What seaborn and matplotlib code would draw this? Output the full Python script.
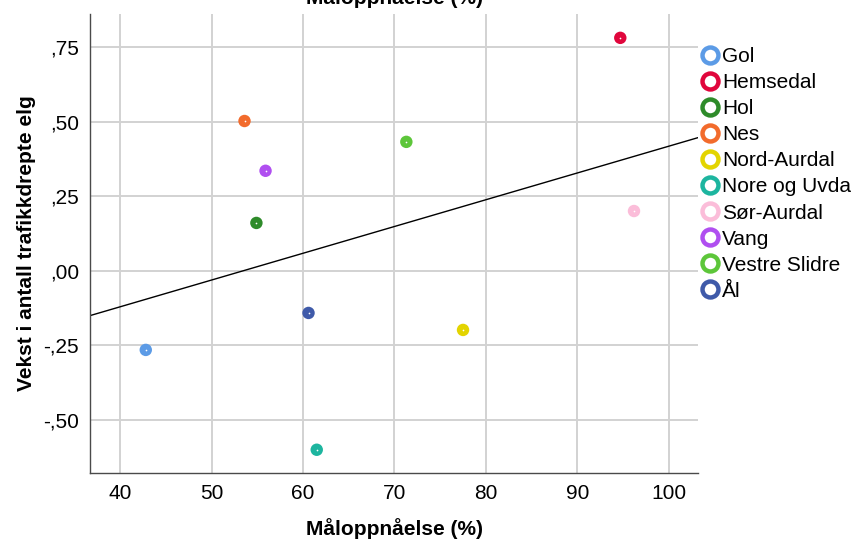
import matplotlib
matplotlib.use("Agg")
import matplotlib.pyplot as plt
from matplotlib.lines import Line2D
from matplotlib.ticker import FuncFormatter, FixedLocator
import seaborn as sns
import pandas as pd

kommuner = ["Gol", "Hemsedal", "Hol", "Nes", "Nord-Aurdal", "Nore og Uvda",
            "Sør-Aurdal", "Vang", "Vestre Slidre", "Ål"]
maloppnaelse = [42.8, 94.7, 54.9, 53.6, 77.5, 61.5, 96.2, 55.9, 71.3, 60.6]
vekst = [-0.265, 0.782, 0.161, 0.503, -0.198, -0.600, 0.201, 0.336, 0.433, -0.141]
farger = ["#5c9be6", "#e0063c", "#2e8b2a", "#f26b2c", "#e3d400", "#1db59f",
          "#fbbdd9", "#b04ff0", "#5dc63a", "#3f5aa9"]

x_ticks = [40, 50, 60, 70, 80, 90, 100]
y_ticks = [-0.50, -0.25, 0.00, 0.25, 0.50, 0.75]

df = pd.DataFrame({"kommune": kommuner, "mal": maloppnaelse, "vekst": vekst})
palette = dict(zip(kommuner, farger))

sns.set_theme(style="white")
plt.rcParams["font.family"] = ["Liberation Sans", "DejaVu Sans"]
plt.rcParams["text.color"] = "black"
plt.rcParams["axes.labelcolor"] = "black"
plt.rcParams["xtick.color"] = "black"
plt.rcParams["ytick.color"] = "black"

fig = plt.figure(figsize=(8.58, 5.45), dpi=100)
ax = fig.add_axes([90 / 858, 1 - 473 / 545, 608 / 858, 459 / 545])

ax.set_xlim(36.7, 103.2)
ax.set_ylim(-0.678, 0.862)

# grid lines at each tick
ax.xaxis.set_major_locator(FixedLocator(x_ticks))
ax.yaxis.set_major_locator(FixedLocator(y_ticks))
ax.grid(True, color="#d2d2d2", linewidth=1.4)
ax.set_axisbelow(True)

# fitted line across the whole x range
sns.regplot(data=df, x="mal", y="vekst", ax=ax, scatter=False, ci=None,
            truncate=False, color="black", line_kws={"linewidth": 1.0})

sns.scatterplot(data=df, x="mal", y="vekst", hue="kommune", palette=palette,
                s=80, linewidth=0, ax=ax, legend=False, zorder=3)
ax.scatter(df["mal"], df["vekst"], s=1.5, color="white", linewidths=0, zorder=4)

ax.set_xlim(36.7, 103.2)
ax.set_ylim(-0.678, 0.862)

ax.yaxis.set_major_formatter(
    FuncFormatter(lambda v, p: f"{v:.2f}".replace("0.", ",", 1)))
ax.tick_params(axis="both", labelsize=15, length=0, pad=8)

for side in ["top", "right"]:
    ax.spines[side].set_visible(False)
for side in ["left", "bottom"]:
    ax.spines[side].set_color("#4a4a4a")
    ax.spines[side].set_linewidth(1.0)

ax.set_xlabel("Måloppnåelse (%)", fontsize=15, fontweight="bold", labelpad=11)
ax.set_ylabel("Vekst i antall trafikkdrepte elg", fontsize=15,
              fontweight="bold", labelpad=5)

fig.text(394 / 858, 1 - 4 / 545, "Måloppnåelse (%)", ha="center",
         va="baseline", fontsize=15, fontweight="bold")

handles = [Line2D([0], [0], marker="o", linestyle="none", markersize=11.5,
                  markerfacecolor="white", markeredgecolor=c,
                  markeredgewidth=3.2) for c in farger]
fig.legend(handles, kommuner, loc="upper left",
           bbox_to_anchor=(702 / 858, 1 - 47 / 545), frameon=False,
           fontsize=15, handlelength=0.8, handletextpad=0.15,
           labelspacing=0.34, borderaxespad=0, borderpad=0)

fig.savefig("out.png", dpi=100)
